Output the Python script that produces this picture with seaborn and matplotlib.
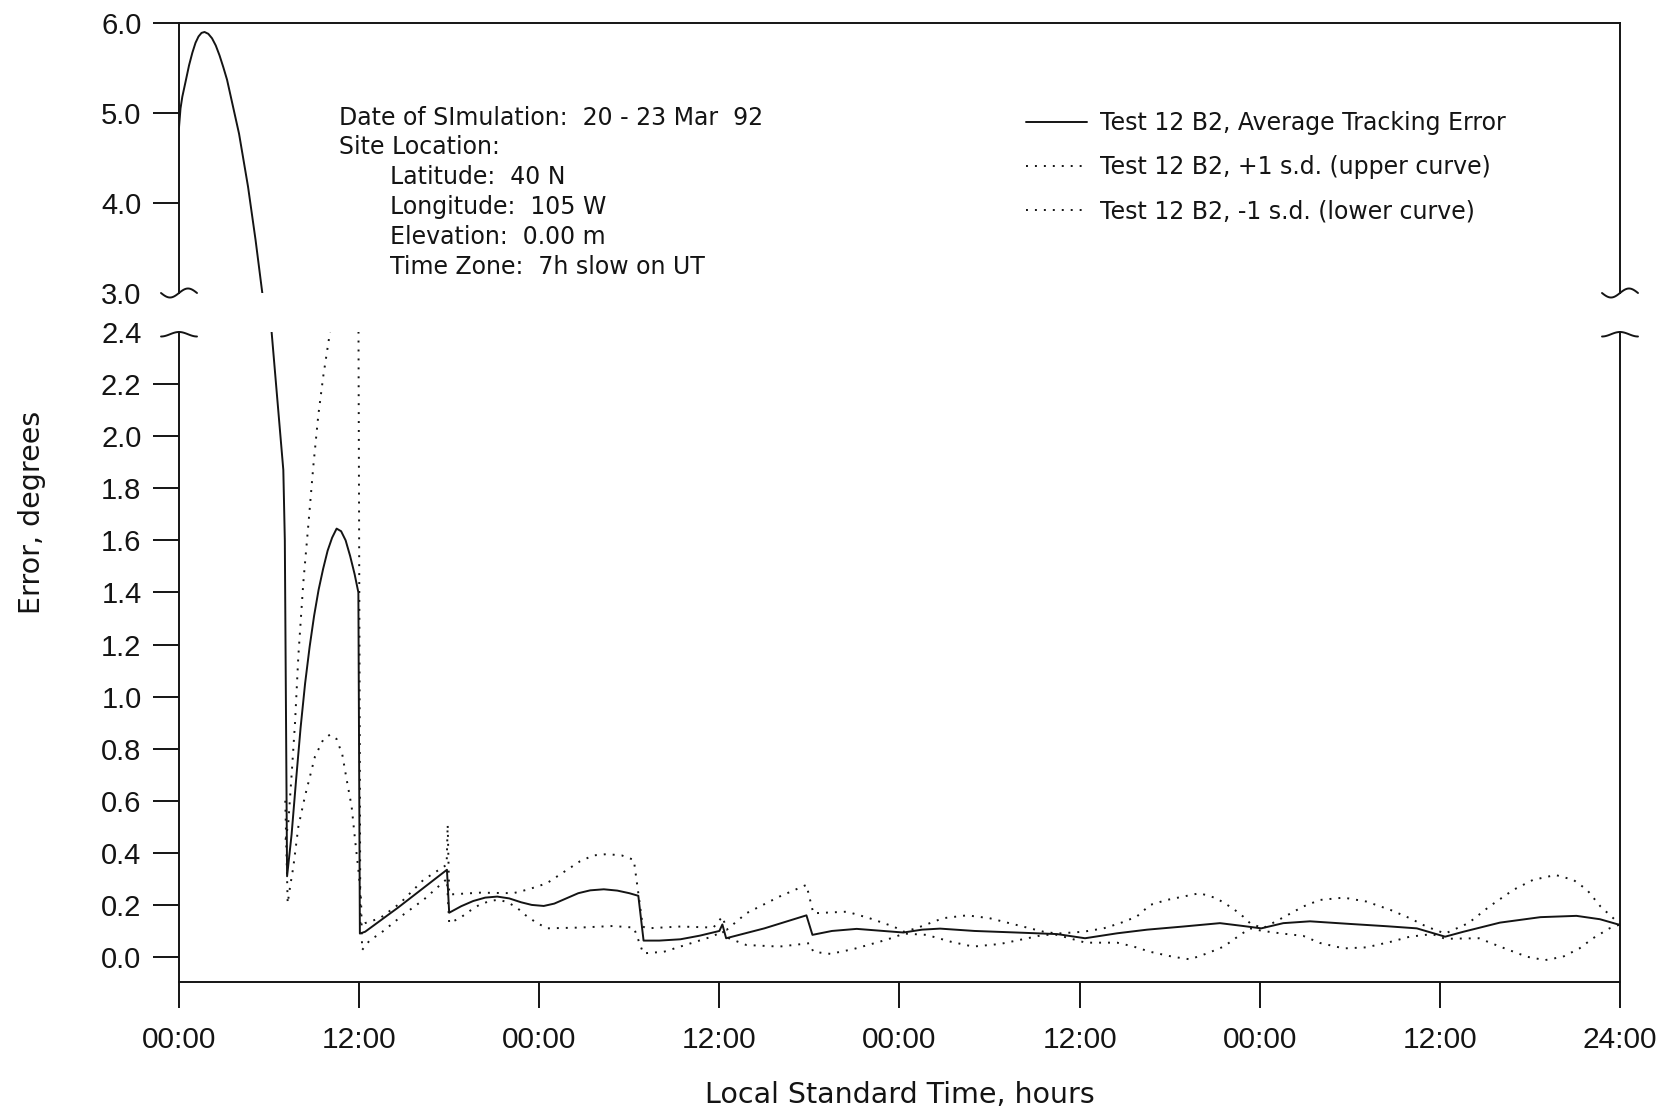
import numpy as np
import pandas as pd
import matplotlib
matplotlib.use("Agg")
import matplotlib.pyplot as plt
import seaborn as sns
from matplotlib.lines import Line2D

# ---- data: tracking error over four days (hours from start) ----
hours_mean = [0.0, 0.1, 0.22, 0.44, 0.67, 0.89, 1.1, 1.3, 1.5, 1.7, 1.95,
              2.2, 2.45, 2.7, 2.95, 3.2, 4.0, 4.6, 5.1, 5.55,
              6.17, 6.95, 7.05, 7.2, 7.5, 7.8, 8.1, 8.4, 8.7, 9.0, 9.3, 9.6,
              9.9, 10.2, 10.5, 10.8, 11.1, 11.4, 11.7, 11.95, 12.05, 12.4,
              14.6, 17.85, 18.0, 18.8, 19.6, 20.4, 21.2, 22.0, 22.8, 23.5,
              24.3, 25.0, 25.8, 26.6, 27.4, 28.3, 29.2, 30.0, 30.6, 30.95,
              32.0, 33.4, 34.7, 36.0, 36.2, 36.45, 39.0, 41.8, 42.2, 43.5,
              45.15, 46.7, 48.26, 49.5, 50.7, 53.0, 55.8, 58.5, 60.36, 62.5,
              64.5, 66.9, 69.35, 70.9, 72.1, 73.57, 75.35, 78.0, 80.5, 82.46,
              84.35, 85.57, 88.0, 90.7, 93.1, 94.67, 96.0]
err_mean = [4.84, 5.05, 5.18, 5.35, 5.53, 5.67, 5.78, 5.85, 5.89, 5.90, 5.88,
            5.83, 5.75, 5.64, 5.51, 5.37, 4.77, 4.18, 3.59, 3.00,
            2.40, 1.87, 1.60, 0.31, 0.47, 0.68, 0.88, 1.05, 1.19, 1.31, 1.41, 1.49,
            1.56, 1.61, 1.645, 1.635, 1.60, 1.54, 1.47, 1.40, 0.09, 0.097,
            0.19, 0.335, 0.17, 0.195, 0.215, 0.228, 0.232, 0.225, 0.21, 0.20,
            0.196, 0.205, 0.225, 0.245, 0.256, 0.26, 0.255, 0.245, 0.235, 0.063,
            0.063, 0.068, 0.082, 0.100, 0.125, 0.072, 0.11, 0.16, 0.085, 0.10,
            0.108, 0.101, 0.094, 0.105, 0.109, 0.10, 0.094, 0.088, 0.072, 0.091,
            0.105, 0.117, 0.13, 0.119, 0.11, 0.13, 0.137, 0.127, 0.118, 0.11,
            0.078, 0.097, 0.132, 0.153, 0.158, 0.145, 0.123]

hours_upper = [7.1, 7.28, 7.51, 7.73, 7.95, 8.28, 8.61, 8.95, 9.28, 9.61, 10.06,
               10.6, 11.2, 11.95, 12.08, 12.39, 13.39, 14.72, 16.28, 17.83, 17.9,
               18.0, 20.05, 22.27, 23.3, 24.5, 25.6, 26.7, 27.6, 28.5, 29.5, 30.3,
               30.9, 31.16, 33.4, 35.6, 36.2, 36.5, 37.8, 40.0, 41.8, 42.26, 44.5,
               46.0, 47.6, 48.3, 49.1, 50.9, 52.5, 54.0, 55.8, 57.6, 58.5, 60.25,
               61.6, 62.7, 63.8, 64.7, 65.8, 66.9, 68.0, 69.1, 70.2, 70.9, 71.35,
               72.2, 73.5, 74.9, 76.0, 77.6, 79.1, 80.7, 82.0, 83.1, 84.35, 85.9,
               87.3, 88.9, 90.2, 91.7, 92.9, 93.8, 94.7, 95.8, 96.0]
err_upper = [0.45, 0.514, 0.706, 0.90, 1.155, 1.437, 1.655, 1.886, 2.08, 2.23, 2.40,
             2.48, 2.53, 2.55, 0.12, 0.13, 0.149, 0.206, 0.296, 0.354, 0.508,
             0.24, 0.247, 0.245, 0.26, 0.283, 0.325, 0.367, 0.39, 0.395, 0.39, 0.373,
             0.117, 0.11, 0.117, 0.113, 0.155, 0.105, 0.168, 0.232, 0.277, 0.168,
             0.174, 0.149, 0.117, 0.097, 0.11, 0.149, 0.16, 0.149, 0.123, 0.097,
             0.09, 0.097, 0.11, 0.13, 0.155, 0.20, 0.219, 0.232, 0.245, 0.226,
             0.187, 0.155, 0.13, 0.11, 0.15, 0.194, 0.219, 0.228, 0.213, 0.181,
             0.149, 0.117, 0.09, 0.13, 0.194, 0.258, 0.296, 0.315, 0.296, 0.258,
             0.194, 0.136, 0.125]

hours_lower = [7.08, 7.24, 7.4, 7.62, 7.95, 8.39, 9.06, 9.61, 10.06, 10.5, 10.88,
               11.17, 11.5, 11.73, 11.95, 12.13, 12.2, 12.72, 13.4, 15.0, 16.3,
               17.85, 18.0, 18.7, 19.4, 20.0, 20.7, 21.3, 21.9, 22.5, 23.1, 23.7,
               24.5, 26.7, 28.9, 30.3, 30.93, 32.3, 33.4, 34.5, 35.6, 36.2, 36.5,
               37.8, 40.0, 42.0, 42.26, 43.4, 44.9, 46.7, 47.6, 48.3, 49.8, 51.4,
               52.9, 54.7, 56.2, 57.6, 58.5, 60.4, 62.5, 63.6, 64.7, 66.2, 67.35,
               68.5, 69.6, 70.7, 71.35, 72.2, 73.5, 74.9, 76.0, 77.6, 79.1, 80.7,
               82.0, 83.5, 84.35, 86.6, 88.0, 89.8, 91.0, 92.2, 93.3, 94.2, 95.3,
               96.0]
err_lower = [0.60, 0.206, 0.27, 0.347, 0.50, 0.617, 0.77, 0.835, 0.854, 0.837, 0.777,
             0.681, 0.578, 0.45, 0.335, 0.219, 0.027, 0.065, 0.09, 0.165, 0.22,
             0.30, 0.13, 0.149, 0.178, 0.20, 0.215, 0.22, 0.21, 0.19, 0.16, 0.136,
             0.11, 0.113, 0.119, 0.113, 0.014, 0.02, 0.04, 0.06, 0.08, 0.10, 0.075,
             0.046, 0.04, 0.053, 0.02, 0.012, 0.03, 0.059, 0.075, 0.09, 0.085, 0.059,
             0.04, 0.05, 0.068, 0.085, 0.085, 0.055, 0.055, 0.04, 0.02, 0.001, -0.009,
             0.014, 0.04, 0.085, 0.11, 0.10, 0.09, 0.081, 0.054, 0.033, 0.037, 0.058,
             0.078, 0.088, 0.07, 0.072, 0.04, 0.001, -0.012, 0.001, 0.033, 0.072,
             0.11, 0.125]

x_ticks = [0, 12, 24, 36, 48, 60, 72, 84, 96]
x_tick_labels = ["00:00", "12:00", "00:00", "12:00", "00:00",
                 "12:00", "00:00", "12:00", "24:00"]
upper_y_ticks = [3.0, 4.0, 5.0, 6.0]
lower_y_ticks = [0.0, 0.2, 0.4, 0.6, 0.8, 1.0, 1.2, 1.4, 1.6, 1.8, 2.0, 2.2, 2.4]

series_labels = ["Test 12 B2, Average Tracking Error",
                 "Test 12 B2, +1 s.d. (upper curve)",
                 "Test 12 B2, -1 s.d. (lower curve)"]
info_lines = ["Date of SImulation:  20 - 23 Mar  92",
              "Site Location:",
              "Latitude:  40 N",
              "Longitude:  105 W",
              "Elevation:  0.00 m",
              "Time Zone:  7h slow on UT"]

# ---- style ----
sns.set_style("ticks")
plt.rcParams["font.family"] = ["Liberation Sans", "DejaVu Sans"]
WIDE = ["DejaVu Sans"]
INK = "#141414"
plt.rcParams["text.color"] = INK
plt.rcParams["axes.edgecolor"] = INK
plt.rcParams["xtick.color"] = INK
plt.rcParams["ytick.color"] = INK

W, H = 1680, 1115
fig = plt.figure(figsize=(W / 100, H / 100), dpi=100)
fig.patch.set_facecolor("white")


def fx(px):
    return px / W


def fy(py):
    return 1 - py / H


LEFT, RIGHT = 179, 1620
ax_top = fig.add_axes([fx(LEFT), fy(293), (RIGHT - LEFT) / W, (293 - 23) / H])
ax_bot = fig.add_axes([fx(LEFT), fy(982), (RIGHT - LEFT) / W, (982 - 332) / H])

df_mean = pd.DataFrame({"hours": hours_mean, "error": err_mean})
df_up = pd.DataFrame({"hours": hours_upper, "error": err_upper})
df_lo = pd.DataFrame({"hours": hours_lower, "error": err_lower})

dot_style = (0, (1, 3.6))
for ax in (ax_top, ax_bot):
    sns.lineplot(data=df_up, x="hours", y="error", ax=ax, color=INK, lw=1.4,
                 linestyle=dot_style, sort=False, estimator=None,
                 label=series_labels[1])
    sns.lineplot(data=df_lo, x="hours", y="error", ax=ax, color=INK, lw=1.4,
                 linestyle=dot_style, sort=False, estimator=None,
                 label=series_labels[2])
    sns.lineplot(data=df_mean, x="hours", y="error", ax=ax, color=INK, lw=1.4,
                 sort=False, estimator=None, label=series_labels[0])
    if ax.get_legend() is not None:
        ax.get_legend().remove()
    ax.set_xlim(0, 96)
    ax.set_xlabel("")
    ax.set_ylabel("")
    ax.set_facecolor("white")
    for s in ax.spines.values():
        s.set_linewidth(1.4)

ax_top.set_ylim(3.0, 6.0)
ax_bot.set_ylim(-0.096, 2.4)
ax_top.spines["bottom"].set_visible(False)
ax_bot.spines["top"].set_visible(False)

ax_top.set_xticks([])
ax_bot.set_xticks(x_ticks)
ax_bot.set_xticklabels(x_tick_labels)

ax_top.set_yticks(upper_y_ticks)
ax_top.set_yticklabels([f"{v:.1f}" for v in upper_y_ticks])
ax_bot.set_yticks(lower_y_ticks)
ax_bot.set_yticklabels([f"{v:.1f}" for v in lower_y_ticks])

for ax in (ax_top, ax_bot):
    ax.tick_params(axis="y", direction="out", length=19, width=1.4,
                   labelsize=21, pad=8)
ax_bot.tick_params(axis="x", direction="out", length=19, width=1.4,
                   labelsize=21.5, pad=13)

# the break values carry a brace instead of a straight tick
ax_top.yaxis.get_major_ticks()[0].tick1line.set_visible(False)
ax_bot.yaxis.get_major_ticks()[-1].tick1line.set_visible(False)


def brace(xc, yc, kind):
    t = np.linspace(-1, 1, 80)
    w, h = 18, 4.5
    xs = xc + w * t
    if kind == "end":
        up = h * np.sin(np.pi * t)
    else:
        up = h * (np.cos(np.pi * t) - 1) / 2
    fig.add_artist(Line2D(fx(xs), fy(yc - up), transform=fig.transFigure,
                          color=INK, lw=1.4, clip_on=False))


for xc in (LEFT, RIGHT):
    brace(xc, 293, "end")
    brace(xc, 332, "start")

# axis titles
fig.text(fx(900), fy(1095), "Local Standard Time, hours", ha="center",
         va="center", fontsize=20.5, family=WIDE)
fig.text(fx(32), fy(512), "Error, degrees", ha="center", va="center",
         rotation=90, fontsize=20.5, family=WIDE)

# simulation details
info_base = [124.7, 154.5, 184.3, 214.1, 243.9, 273.7]
info_x = [339, 339, 390, 390, 390, 390]
for line, xp, yp in zip(info_lines, info_x, info_base):
    fig.text(fx(xp), fy(yp), line, ha="left", va="baseline", fontsize=17,
             family=WIDE)

# legend
handles, labels = ax_bot.get_legend_handles_labels()
order = [labels.index(l) for l in series_labels]
fig.legend([handles[i] for i in order], [labels[i] for i in order],
           loc="upper left", bbox_to_anchor=(fx(1026), fy(111)),
           frameon=False, prop={"family": WIDE, "size": 17},
           handlelength=2.6, handletextpad=0.55, labelspacing=0.86,
           borderpad=0, borderaxespad=0)

fig.savefig("out.png", dpi=100, facecolor="white")
